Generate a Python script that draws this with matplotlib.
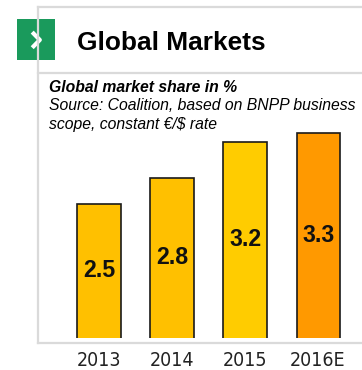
import matplotlib
matplotlib.use("Agg")
import matplotlib.pyplot as plt
from matplotlib.lines import Line2D
from matplotlib.patches import Rectangle

# market share data
years = ["2013", "2014", "2015", "2016E"]
share = [2.5, 2.8, 3.2, 3.3]
colors = ["#FFC000", "#FFC000", "#FFCC00", "#FF9900"]

W, H = 362, 370
fig = plt.figure(figsize=(W / 100, H / 100), dpi=100)
fig.patch.set_facecolor("white")

def fx(px):
    return px / W

def fy(py):
    return 1 - py / H

# panel frame
grey = "#DADADA"
for x0, y0, x1, y1 in [(38, 7, 362, 7), (38, 73, 362, 73), (38, 343, 362, 343), (38, 7, 38, 343)]:
    fig.add_artist(Line2D([fx(x0), fx(x1)], [fy(y0), fy(y1)], color=grey, lw=1.6))

# green chevron box
box = fig.add_axes([fx(17), fy(60), fx(38), 41 / H])
box.add_patch(Rectangle((0, 0), 1, 1, color="#1A9A5C"))
box.plot([0.40, 0.60, 0.40], [0.68, 0.49, 0.30], color="white", lw=3.0, solid_capstyle="butt")
box.set_xlim(0, 1)
box.set_ylim(0, 1)
box.axis("off")

fig.text(fx(77), fy(43), "Global Markets", fontsize=18.9, fontweight="bold",
         family="Liberation Sans", va="center", ha="left", color="black")
fig.text(fx(49), fy(88), "Global market share in %", fontsize=11.3, fontweight="bold",
         style="italic", family="Liberation Sans", va="center", color="black")
fig.text(fx(49), fy(106), "Source: Coalition, based on BNPP business", fontsize=11.3,
         style="italic", family="Liberation Sans", va="center", color="black")
fig.text(fx(49), fy(124), "scope, constant \u20ac/$ rate", fontsize=11.3,
         style="italic", family="Liberation Sans", va="center", color="black")

# bars
ax = fig.add_axes([fx(62.5), fy(337.5), 292.5 / W, 207.5 / H])
x = range(len(years))
ax.bar(x, share, width=0.6, bottom=0, color=colors, edgecolor="#1a1a1a", linewidth=1.2)
ax.set_xlim(-0.5, 3.5)
ax.set_ylim(1.0, 1.0 + 207.5 / 88.75)
for i, v in enumerate(share):
    ax.text(i, (1.0 + v) / 2, f"{v:.1f}", ha="center", va="center", fontsize=16.7,
            fontweight="bold", family="Liberation Sans", color="#111111")
ax.axis("off")

for i, y in enumerate(years):
    fig.text(fx(62.5 + 73 * (i + 0.5)), fy(360), y, ha="center", va="center",
             fontsize=14, family="DejaVu Sans", fontstretch="condensed", color="#222222")

fig.savefig("out.png", dpi=100)
